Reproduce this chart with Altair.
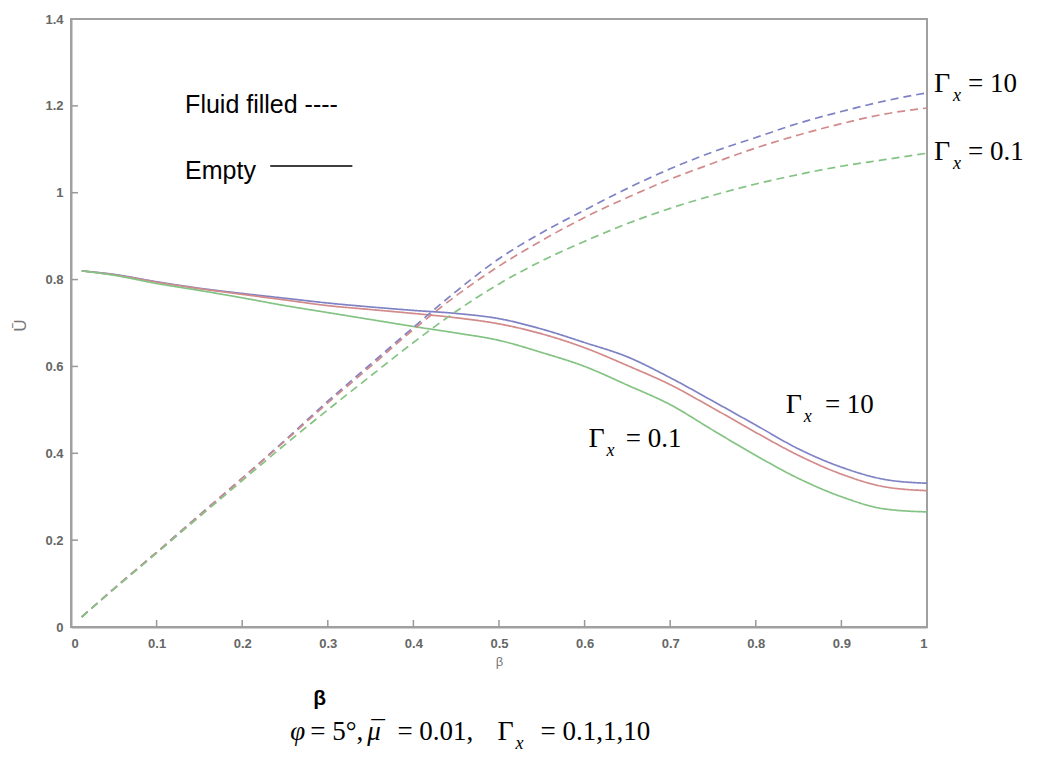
import altair as alt
import pandas as pd

# ---------------- data ----------------
beta = [0.0125, 0.05, 0.1, 0.15, 0.2, 0.25, 0.3, 0.35, 0.4, 0.45, 0.5,
        0.55, 0.6, 0.65, 0.7, 0.75, 0.8, 0.85, 0.9, 0.95, 1.0]

# Empty pipe (solid)
empty_g10 = [0.820, 0.812, 0.795, 0.780, 0.768, 0.757, 0.746, 0.737, 0.729, 0.722, 0.710,
             0.686, 0.655, 0.622, 0.574, 0.520, 0.465, 0.410, 0.368, 0.340, 0.331]
empty_g1 = [0.820, 0.811, 0.794, 0.779, 0.766, 0.753, 0.740, 0.731, 0.722, 0.712, 0.698,
            0.675, 0.643, 0.602, 0.558, 0.504, 0.448, 0.395, 0.352, 0.323, 0.314]
empty_g01 = [0.820, 0.810, 0.791, 0.775, 0.758, 0.740, 0.724, 0.708, 0.692, 0.677, 0.660,
             0.632, 0.600, 0.557, 0.512, 0.453, 0.395, 0.342, 0.300, 0.272, 0.265]

# Fluid filled pipe (dashed)
fluid_g10 = [0.023, 0.088, 0.172, 0.258, 0.343, 0.430, 0.520, 0.605, 0.690, 0.773, 0.848,
             0.908, 0.960, 1.010, 1.055, 1.094, 1.127, 1.160, 1.187, 1.211, 1.230]
fluid_g1 = [0.023, 0.088, 0.172, 0.257, 0.342, 0.428, 0.516, 0.600, 0.685, 0.763, 0.831,
            0.890, 0.943, 0.989, 1.031, 1.068, 1.103, 1.133, 1.159, 1.181, 1.195]
fluid_g01 = [0.023, 0.087, 0.170, 0.254, 0.337, 0.420, 0.500, 0.578, 0.655, 0.727, 0.790,
             0.843, 0.888, 0.929, 0.964, 0.994, 1.020, 1.042, 1.061, 1.076, 1.091]

gammas = ["10", "1", "0.1"]
colors = ["#7f82c4", "#d38a8a", "#84c384"]
kinds = ["Empty", "Fluid filled"]

x_ticks = [0, 0.1, 0.2, 0.3, 0.4, 0.5, 0.6, 0.7, 0.8, 0.9, 1]
y_ticks = [0, 0.2, 0.4, 0.6, 0.8, 1.0, 1.2, 1.4]

# annotation texts (data coordinates)
gam_text = ["Γ", "Γ", "Γ", "Γ", "Γ"]
gam_beta = [1.0082, 1.0082, 0.8351, 0.6047, 0.4982]
gam_u = [1.2319, 1.0753, 0.4927, 0.4145, -0.2602]

sub_text = ["x", "x", "x", "x", "x"]
sub_beta = [1.0304, 1.0304, 0.8561, 0.6257, 0.5193]
sub_u = [1.2111, 1.0546, 0.4720, 0.3937, -0.2809]

eq_text = ["= 10", "= 0.1", "= 10", "= 0.1", "= 0.1,1,10", "= 5°,", "= 0.01,"]
eq_beta = [1.0480, 1.0480, 0.8807, 0.6480, 0.5485, 0.2795, 0.3813]
eq_u = [1.2319, 1.0753, 0.4927, 0.4145, -0.2602, -0.2602, -0.2602]

ital_text = ["φ", "μ", "¯"]
ital_beta = [0.2561, 0.3462, 0.3485]
ital_u = [-0.2602, -0.2602, -0.2602]

leg_text = ["Fluid filled ----", "Empty"]
leg_beta = [0.1333, 0.1333]
leg_u = [1.1835, 1.0315]
leg_line_beta = [0.2327, 0.3287]
leg_line_u = [1.0615]

bold_text = ["β"]
bold_beta = [0.2830]
bold_u = [-0.1796]

# ---------------- build tables ----------------
rows = []
series = {
    ("Empty", "10"): empty_g10, ("Empty", "1"): empty_g1, ("Empty", "0.1"): empty_g01,
    ("Fluid filled", "10"): fluid_g10, ("Fluid filled", "1"): fluid_g1, ("Fluid filled", "0.1"): fluid_g01,
}
for (kind, g), vals in series.items():
    for b, v in zip(beta, vals):
        rows.append({"beta": b, "u": v, "gamma": g, "kind": kind})
df = pd.DataFrame(rows)

W, H = 856, 608
xscale = alt.Scale(domain=[0, 1], nice=False, zero=False)
yscale = alt.Scale(domain=[0, 1.4], nice=False, zero=False)

lines = alt.Chart(df).mark_line(strokeWidth=1.7, interpolate="monotone").encode(
    x=alt.X("beta:Q", scale=xscale,
            axis=alt.Axis(values=x_ticks, format="~g", title="β", titleY=34,
                          titleBaseline="middle", titleFontSize=13, titleFontWeight="normal",
                          titleColor="#777", labelPadding=10)),
    y=alt.Y("u:Q", scale=yscale,
            axis=alt.Axis(values=y_ticks, format="~g", title="Ū", titleX=-51, titleY=306,
                          titleAngle=270, titleBaseline="middle", titleAlign="center",
                          titleFontSize=17, titleFontWeight="normal", titleColor="#777",
                          labelPadding=8)),
    color=alt.Color("gamma:N", scale=alt.Scale(domain=gammas, range=colors), legend=None),
    strokeDash=alt.StrokeDash("kind:N", scale=alt.Scale(domain=kinds, range=[[1, 0], [8, 5]]),
                              legend=None),
)

xt = alt.Chart(pd.DataFrame({"beta": x_ticks[1:-1]})).mark_rule(color="#999", strokeWidth=1.5).encode(
    x=alt.X("beta:Q", scale=xscale), y=alt.value(H), y2=alt.value(H - 7))
yt = alt.Chart(pd.DataFrame({"u": y_ticks[1:-1]})).mark_rule(color="#999", strokeWidth=1.5).encode(
    y=alt.Y("u:Q", scale=yscale), x=alt.value(0), x2=alt.value(7))


def text_layer(texts, bs, us, **kw):
    d = pd.DataFrame({"beta": bs, "u": us, "t": texts})
    return alt.Chart(d).mark_text(align="left", baseline="alphabetic", color="black", **kw).encode(
        x=alt.X("beta:Q", scale=xscale), y=alt.Y("u:Q", scale=yscale), text="t:N")


gam = text_layer(gam_text, gam_beta, gam_u, font="Liberation Serif", fontSize=28)
sub = text_layer(sub_text, sub_beta, sub_u, font="Liberation Serif", fontSize=18, fontStyle="italic")
eq = text_layer(eq_text, eq_beta, eq_u, font="Liberation Serif", fontSize=27)
ital = text_layer(ital_text, ital_beta, ital_u, font="Liberation Serif", fontSize=27, fontStyle="italic")
leg = text_layer(leg_text, leg_beta, leg_u, font="Liberation Sans", fontSize=25)
bold = text_layer(bold_text, bold_beta, bold_u, font="Liberation Sans", fontSize=21, fontWeight="bold")

leg_line = alt.Chart(pd.DataFrame({"beta": [leg_line_beta[0]], "b2": [leg_line_beta[1]],
                                   "u": leg_line_u})).mark_rule(color="black", strokeWidth=1.5).encode(
    x=alt.X("beta:Q", scale=xscale), x2="b2:Q", y=alt.Y("u:Q", scale=yscale))

chart = alt.layer(lines, xt, yt, gam, sub, eq, ital, leg, leg_line, bold).properties(
    width=W, height=H,
    autosize=alt.AutoSizeParams(type="none"),
    padding={"left": 71, "top": 19, "right": 110, "bottom": 130},
    background="white",
).configure_view(stroke="#a0a0a0", strokeWidth=2).configure_axis(
    domainColor="#a0a0a0", domainWidth=2, ticks=False, grid=False,
    labelColor="#666", labelFont="Liberation Sans", labelFontSize=13, labelFontWeight="bold",
    titleFont="Liberation Sans",
)

chart.save("out.html", embed_options={"renderer": "svg", "actions": False})
